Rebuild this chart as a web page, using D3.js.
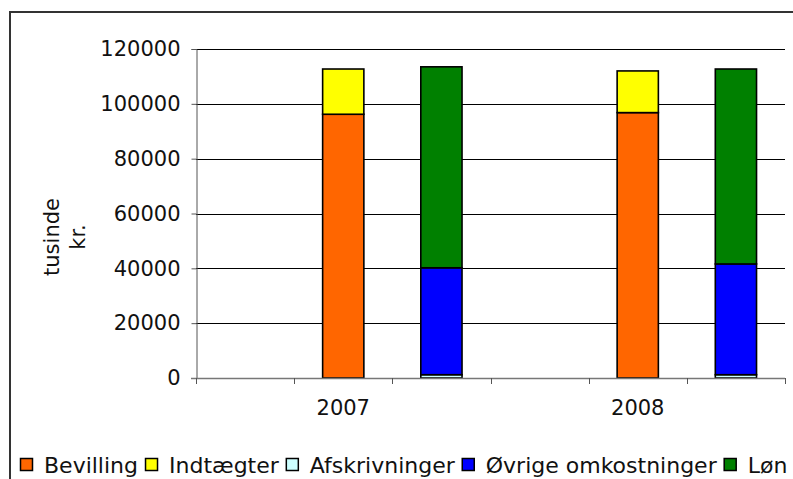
<!DOCTYPE html>
<html>
<head>
<meta charset="utf-8">
<script src="https://cdn.jsdelivr.net/npm/d3@7"></script>
<style>
  body { margin: 0; background: #fff; }
  svg { display: block; font-family: "DejaVu Sans", Verdana, sans-serif; }
</style>
</head>
<body>
<div class="container"></div>
<script>
// data (tusinde kr.)
const years = ["2007", "2008"];
const slots = ["blank", "finansiering", "omkostninger"];
const bevilling = [96200, 96800];
const indtaegter = [16500, 15200];
const afskrivninger = [1200, 1200];
const ovrige = [39000, 40400];
const lon = [73300, 71100];
const yTicks = [0, 20000, 40000, 60000, 80000, 100000, 120000];

const legendNames = ["Bevilling", "Indtægter", "Afskrivninger", "Øvrige omkostninger", "Løn"];
const colors = ["#ff6600", "#ffff00", "#ccffff", "#0000ff", "#008000"];

const width = 793;
const height = 479;
const plot = { left: 196, right: 785, top: 49, bottom: 378 };

let svg = d3.select(".container").append("svg")
  .attr("width", width).attr("height", height);

// outer frame (runs off the right/bottom edge like the original)
svg.append("rect")
  .attr("x", 10).attr("y", 12)
  .attr("width", 800).attr("height", 480)
  .attr("fill", "none").attr("stroke", "#333").attr("stroke-width", 2);

// Scales
let xYear = d3.scaleBand(years, [plot.left, plot.right]);
let xSlot = d3.scaleBand(slots, [0, xYear.bandwidth()]);
let yScale = d3.scaleLinear([0, 120000], [plot.bottom, plot.top]);

// gridlines
svg.append("g").selectAll("line")
  .data(yTicks.filter(d => d > 0)).enter().append("line")
  .attr("x1", plot.left).attr("x2", plot.right)
  .attr("y1", d => Math.round(yScale(d)) + 0.5)
  .attr("y2", d => Math.round(yScale(d)) + 0.5)
  .attr("stroke", "#000").attr("stroke-width", 1);

// stacks: one for income side, one for costs side
let stacks = [];
years.forEach((yr, i) => {
  let fin = [[bevilling[i], colors[0]], [indtaegter[i], colors[1]]];
  let omk = [[afskrivninger[i], colors[2]], [ovrige[i], colors[3]], [lon[i], colors[4]]];
  [["finansiering", fin], ["omkostninger", omk]].forEach(([slot, parts]) => {
    let base = 0;
    parts.forEach(([v, c]) => {
      stacks.push({ year: yr, slot: slot, y0: base, y1: base + v, color: c });
      base += v;
    });
  });
});

const barW = xSlot.bandwidth() * 0.42;
svg.append("g").selectAll("rect")
  .data(stacks).enter().append("rect")
  .attr("x", d => xYear(d.year) + xSlot(d.slot) + (xSlot.bandwidth() - barW) / 2)
  .attr("y", d => yScale(d.y1))
  .attr("width", barW)
  .attr("height", d => yScale(d.y0) - yScale(d.y1))
  .attr("fill", d => d.color)
  .attr("stroke", "#000")
  .attr("stroke-width", 1.6);

// Axes
let yAxis = d3.axisLeft(yScale).tickValues(yTicks).tickSize(5).tickPadding(11).tickFormat(d3.format("d"));
let gy = svg.append("g").attr("transform", `translate(${plot.left + 0.5},0)`);
yAxis(gy);
gy.select(".domain").attr("stroke", "#555");
gy.selectAll(".tick line").attr("stroke", "#555");
gy.selectAll("text").attr("font-size", 21).attr("font-family", "DejaVu Sans").attr("fill", "#111");

// x axis: ticks at slot boundaries, year label centred under each group
let xBounds = [];
years.forEach(yr => slots.forEach(s => xBounds.push(xYear(yr) + xSlot(s))));
xBounds.push(plot.right);
let gx = svg.append("g");
gx.append("line")
  .attr("x1", plot.left - 5).attr("x2", plot.right)
  .attr("y1", plot.bottom + 0.5).attr("y2", plot.bottom + 0.5)
  .attr("stroke", "#777").attr("stroke-width", 1.5);
gx.selectAll(".xt").data(xBounds).enter().append("line")
  .attr("x1", d => Math.round(d) + 0.5).attr("x2", d => Math.round(d) + 0.5)
  .attr("y1", plot.bottom).attr("y2", plot.bottom + 6)
  .attr("stroke", "#555");
gx.selectAll("text").data(years).enter().append("text")
  .attr("x", d => xYear(d) + xYear.bandwidth() / 2)
  .attr("y", 415)
  .attr("text-anchor", "middle")
  .attr("font-size", 21).attr("fill", "#111")
  .text(d => d);

// y title, two lines
let yt = svg.append("text")
  .attr("transform", "translate(52,237) rotate(-90)")
  .attr("text-anchor", "middle")
  .attr("font-size", 21).attr("fill", "#111");
yt.append("tspan").attr("x", 0).attr("y", 7).text("tusinde");
yt.append("tspan").attr("x", 0).attr("y", 33).text("kr.");

// Legend
let lg = svg.append("g").attr("transform", "translate(20,465)");
let lx = 0;
legendNames.forEach((name, i) => {
  let item = lg.append("g").attr("transform", `translate(${lx},0)`);
  item.append("rect")
    .attr("x", 0.5).attr("y", -6.5).attr("width", 12).attr("height", 12)
    .attr("fill", colors[i]).attr("stroke", "#000").attr("stroke-width", 1.5);
  let t = item.append("text")
    .attr("x", 24).attr("y", 8)
    .attr("font-size", 22).attr("fill", "#111")
    .text(name);
  lx += 24 + t.node().getComputedTextLength() + 7;
});
</script>
</body>
</html>
